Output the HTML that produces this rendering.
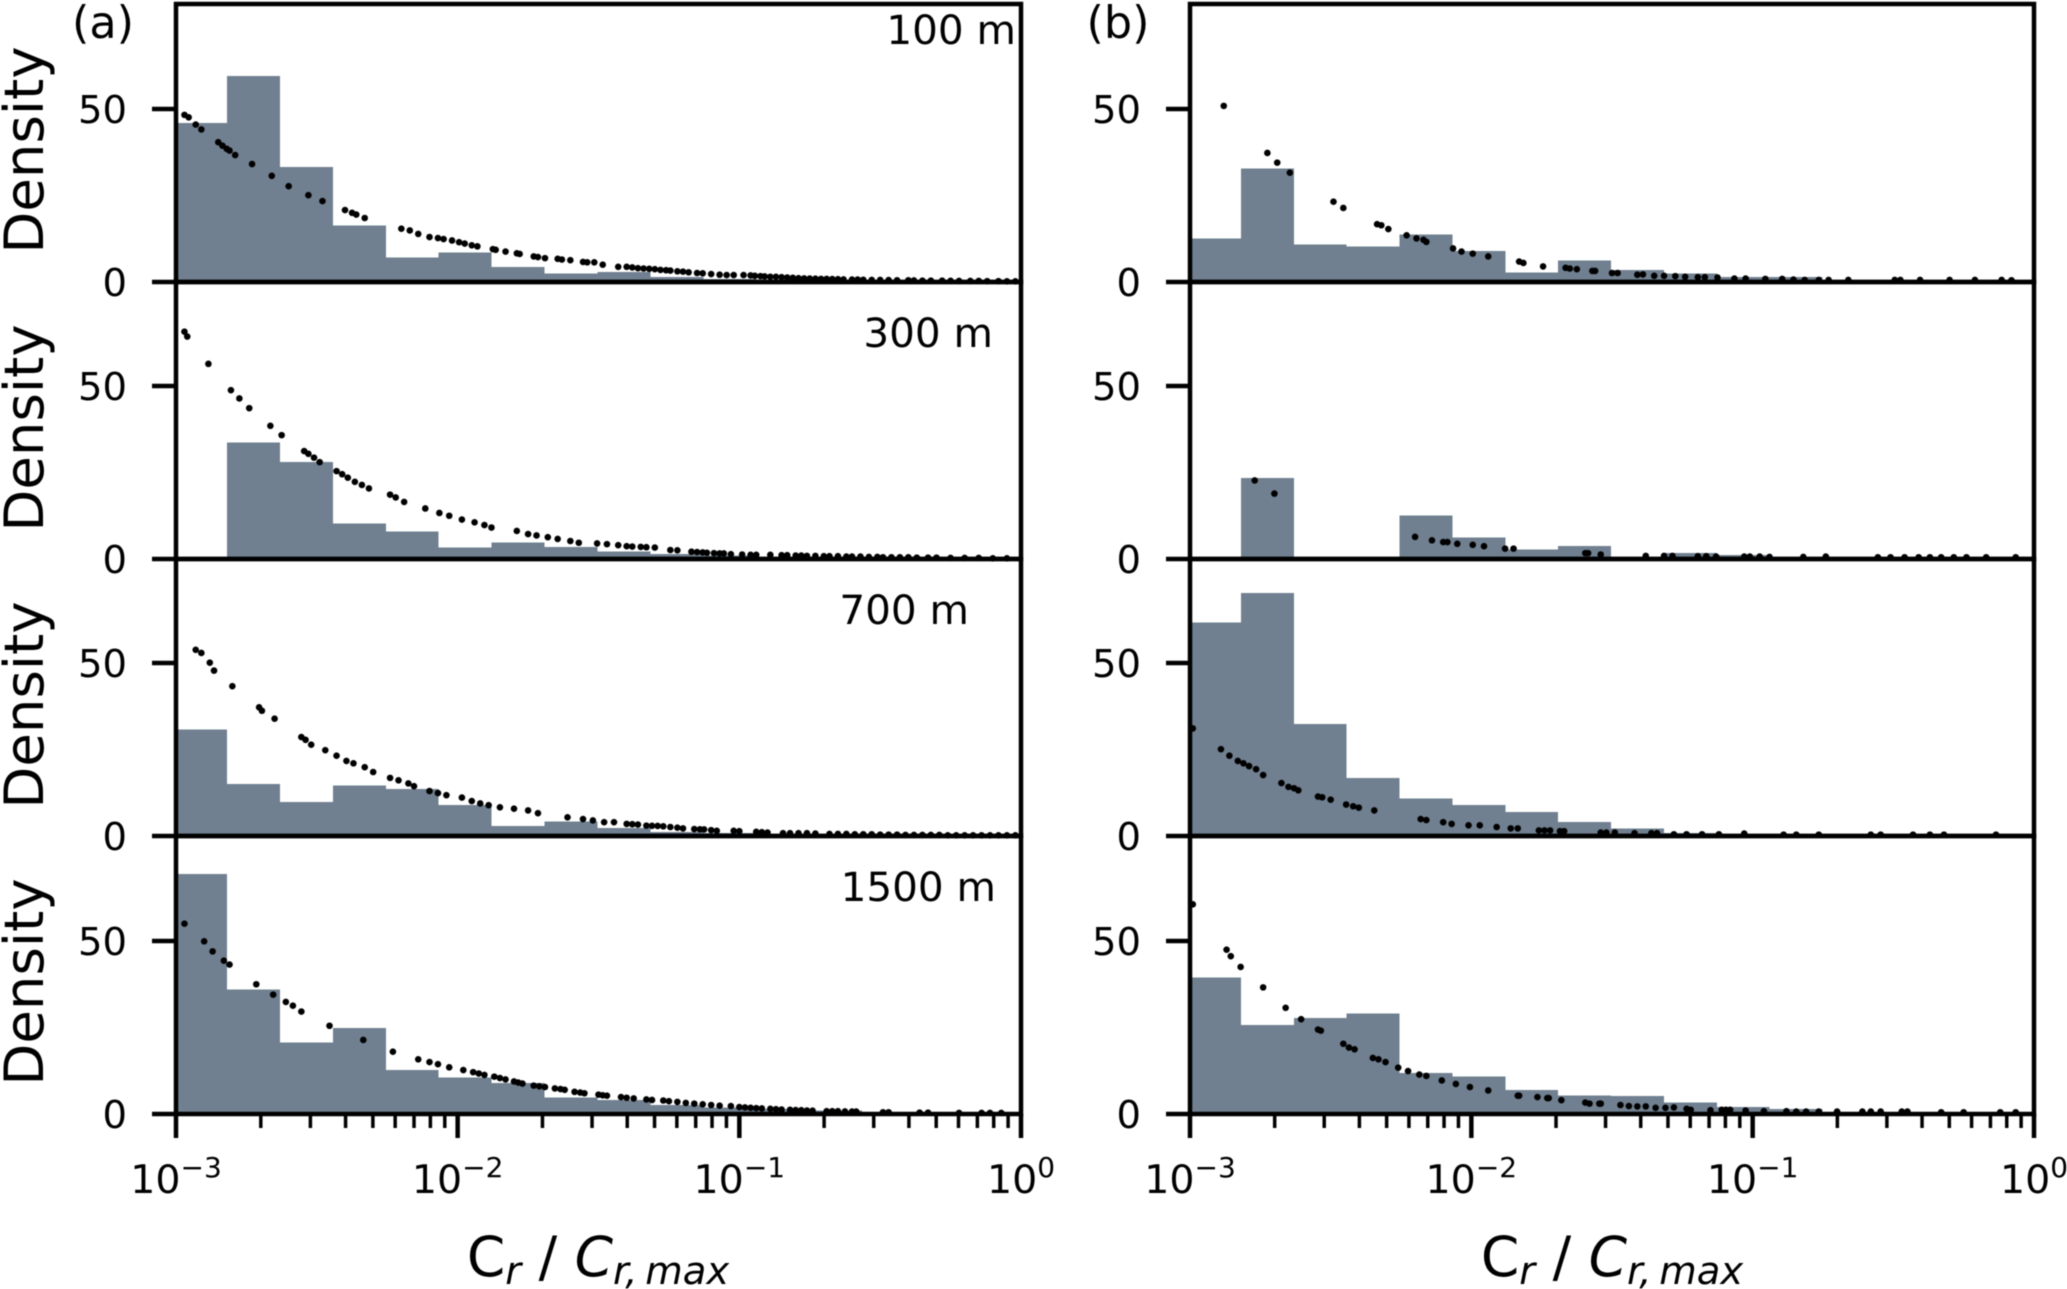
<!DOCTYPE html>
<html>
<head>
<meta charset="utf-8">
<title>Density histograms of Cr / Cr,max</title>
<style>
html,body{margin:0;padding:0;background:#fff;}
svg{display:block;filter:blur(0.5px);}
text{font-family:"DejaVu Sans","Liberation Sans",sans-serif;fill:#000;}
</style>
</head>
<body>
<svg id="chart" xmlns="http://www.w3.org/2000/svg" width="2067" height="1289" viewBox="0 0 2067 1289"></svg>
<script>
/* ---- data: histogram densities for 16 log-spaced bins from 10^-3 to 10^0 ---- */
const binStartExp = -3.007;
const binEndExp = 0;
const a1Hist = [46,59.5,33.3,16.4,7.1,8.5,4.3,2.5,2.9,1.5,0.8,0.5,0.3,0.2,0.1,0.05];
const a2Hist = [0,33.6,28,10.2,7.9,3.3,4.7,3.4,2.2,1.5,1,0.6,0.3,0.2,0.1,0.05];
const a3Hist = [30.8,15.1,9.8,14.6,13.6,9,2.9,4.2,2.3,1.1,0.8,0.5,0.3,0.2,0.1,0.05];
const a4Hist = [69.3,36,20.7,24.9,12.7,10.5,9,4.8,4,2.6,1.9,1.5,1,0.5,0.3,0.1];
const b1Hist = [12.6,32.8,10.8,10.3,13.7,9,2.8,6.2,3.4,2.5,1.5,1.4,0.5,0.3,0.1,0.05];
const b2Hist = [0,23.4,0,0,12.6,6.2,2.8,3.8,0,1.8,1.2,0.1,0.05,0.05,0.05,0];
const b3Hist = [61.7,70.3,32.3,16.8,10.8,8.9,7,4.1,2.2,0.8,0.3,0.2,0.1,0.1,0.05,0];
const b4Hist = [39.4,25.7,27.7,29,11.9,10.8,7,5.3,5.2,3.3,2,1.4,0.6,0.3,0.1,0.05];

/* ---- data: scatter points (log10 of Cr/Cr,max, density) ---- */
const a1X = [-2.97,-2.955,-2.93,-2.91,-2.85,-2.835,-2.82,-2.81,-2.79,-2.73,-2.66,-2.6,-2.53,-2.48,-2.4,-2.375,-2.36,-2.33,-2.2,-2.17,-2.14,-2.1,-2.07,-2.05,-2.02,-1.995,-1.975,-1.95,-1.93,-1.875,-1.865,-1.83,-1.79,-1.78,-1.73,-1.715,-1.69,-1.645,-1.63,-1.6,-1.555,-1.54,-1.515,-1.485,-1.43,-1.4,-1.38,-1.36,-1.34,-1.32,-1.3,-1.28,-1.26,-1.245,-1.22,-1.2,-1.18,-1.15,-1.13,-1.1,-1.07,-1.045,-1.02,-0.985,-0.96,-0.945,-0.925,-0.91,-0.89,-0.87,-0.85,-0.83,-0.81,-0.79,-0.77,-0.75,-0.73,-0.71,-0.69,-0.67,-0.65,-0.63,-0.6,-0.58,-0.56,-0.53,-0.5,-0.47,-0.44,-0.4,-0.38,-0.35,-0.32,-0.28,-0.25,-0.22,-0.18,-0.15,-0.12,-0.08,-0.05,-0.02];
const a1Y = [48.3,47.6,45.5,44.1,40.4,39.4,38.5,38,36.7,34.1,30.7,27.7,25.1,23.4,20.8,20,19.5,18.5,15.4,14.9,13.9,13,12.7,12.4,12,11.5,11.1,10.6,10.3,9.5,9.3,8.8,8.3,8.1,7.4,7.2,6.9,6.7,6.5,6.3,5.8,5.7,5.7,5,4.4,4.4,4.2,4,3.9,3.8,3.7,3.5,3.4,3.3,3.1,3,2.8,2.6,2.5,2.3,2.1,2,2,2,1.9,1.8,1.7,1.6,1.5,1.5,1.4,1.3,1.2,1.1,1.05,1,0.95,0.9,0.9,0.85,0.8,0.75,0.7,0.7,0.65,0.6,0.6,0.55,0.5,0.5,0.45,0.4,0.4,0.4,0.35,0.3,0.3,0.3,0.25,0.25,0.2,0.2];

const a2X = [-2.97,-2.96,-2.885,-2.805,-2.775,-2.74,-2.665,-2.625,-2.545,-2.53,-2.51,-2.49,-2.43,-2.41,-2.39,-2.365,-2.34,-2.315,-2.24,-2.22,-2.19,-2.115,-2.065,-2.03,-1.985,-1.94,-1.905,-1.88,-1.79,-1.75,-1.72,-1.68,-1.645,-1.6,-1.57,-1.505,-1.47,-1.43,-1.4,-1.38,-1.35,-1.33,-1.3,-1.245,-1.22,-1.17,-1.15,-1.13,-1.115,-1.09,-1.07,-1.055,-1.03,-0.99,-0.96,-0.94,-0.89,-0.85,-0.83,-0.8,-0.78,-0.76,-0.73,-0.7,-0.68,-0.65,-0.62,-0.6,-0.57,-0.54,-0.51,-0.49,-0.46,-0.43,-0.4,-0.37,-0.33,-0.3,-0.25,-0.2,-0.15,-0.1,-0.05];
const a2Y = [65.7,64.3,56.4,48.8,46.4,43.6,38.5,35.8,31.2,30.4,29.3,28,25.4,24.5,23.5,22.3,21.4,20.4,18.6,17.8,16.5,14.6,13.3,12.5,11.4,10.6,9.8,9.1,8.1,7.2,6.8,6.3,5.8,5.2,4.7,4.5,4.3,4,3.7,3.6,3.5,3.4,3.3,2.6,2.5,2.1,2,1.9,1.8,1.7,1.6,1.6,1.4,1.3,1.2,1.2,1.2,1.1,1.1,1,1,0.9,0.9,0.8,0.8,0.8,0.7,0.7,0.7,0.6,0.6,0.5,0.5,0.5,0.5,0.4,0.4,0.4,0.3,0.3,0.3,0.2,0.2];

const a3X = [-2.93,-2.91,-2.88,-2.865,-2.8,-2.705,-2.695,-2.65,-2.555,-2.54,-2.52,-2.47,-2.43,-2.395,-2.37,-2.33,-2.3,-2.24,-2.21,-2.175,-2.155,-2.1,-2.07,-2.04,-1.985,-1.95,-1.92,-1.89,-1.85,-1.8,-1.75,-1.715,-1.61,-1.555,-1.52,-1.48,-1.445,-1.4,-1.38,-1.36,-1.33,-1.31,-1.29,-1.27,-1.245,-1.22,-1.2,-1.16,-1.14,-1.125,-1.1,-1.08,-1.02,-1,-0.94,-0.92,-0.9,-0.845,-0.82,-0.79,-0.76,-0.73,-0.68,-0.65,-0.62,-0.59,-0.56,-0.53,-0.5,-0.47,-0.44,-0.41,-0.38,-0.35,-0.32,-0.29,-0.26,-0.23,-0.2,-0.17,-0.14,-0.11,-0.08,-0.05,-0.02];
const a3Y = [53.8,52.9,50.1,47.8,43.3,37.2,36.2,33.9,28.6,27.8,26.4,24.8,23.2,21.7,21,19.9,18.5,16.8,16.1,15.2,14.4,13,12.4,11.8,11.1,10.1,9.4,8.9,8.3,7.9,7.4,6.6,5.4,4.9,4.5,4,4,3.5,3.4,3.3,3,2.95,2.9,2.8,2.6,2.4,2.2,2,1.95,1.9,1.7,1.5,1.5,1.4,1.2,1.1,1,0.8,0.8,0.8,0.8,0.7,0.6,0.6,0.6,0.5,0.5,0.5,0.4,0.4,0.4,0.3,0.3,0.3,0.3,0.3,0.2,0.2,0.2,0.2,0.2,0.2,0.2,0.2,0.2];

const a4X = [-2.97,-2.9,-2.87,-2.83,-2.81,-2.715,-2.655,-2.61,-2.585,-2.555,-2.455,-2.335,-2.23,-2.14,-2.1,-2.07,-2.03,-1.98,-1.945,-1.925,-1.905,-1.87,-1.85,-1.83,-1.8,-1.785,-1.77,-1.73,-1.71,-1.69,-1.655,-1.635,-1.62,-1.585,-1.565,-1.55,-1.5,-1.485,-1.47,-1.42,-1.4,-1.375,-1.33,-1.31,-1.27,-1.25,-1.22,-1.19,-1.16,-1.13,-1.1,-1.07,-1.03,-1,-0.98,-0.96,-0.94,-0.92,-0.89,-0.87,-0.85,-0.82,-0.8,-0.78,-0.76,-0.74,-0.69,-0.67,-0.65,-0.625,-0.6,-0.585,-0.49,-0.47,-0.36,-0.33,-0.22,-0.14,-0.11,-0.07];
const a4Y = [55,49.9,47,44.3,43.2,37.5,34.5,32.4,31.3,29.6,25.5,21.4,18,15.8,15,14.4,13.5,12.7,12.1,11.7,11.3,10.8,10.4,10,9.4,9.1,8.8,8.2,8,7.8,7.4,7.2,7,6.4,6.2,6,5.6,5.4,5.3,4.9,4.7,4.5,4.2,4.05,3.9,3.7,3.5,3.2,3,2.8,2.6,2.4,2.3,2,1.9,1.8,1.7,1.6,1.5,1.4,1.3,1.2,1.15,1.1,1,0.95,0.8,0.8,0.8,0.75,0.7,0.7,0.5,0.5,0.4,0.4,0.3,0.3,0.3,0.3];

const b1X = [-2.88,-2.725,-2.69,-2.645,-2.49,-2.455,-2.335,-2.32,-2.295,-2.23,-2.195,-2.17,-2.16,-2.065,-2.035,-1.995,-1.94,-1.83,-1.815,-1.745,-1.665,-1.65,-1.625,-1.57,-1.56,-1.5,-1.48,-1.41,-1.39,-1.35,-1.315,-1.275,-1.24,-1.195,-1.17,-1.125,-1.065,-1.025,-0.955,-0.895,-0.855,-0.815,-0.765,-0.73,-0.66,-0.495,-0.475,-0.405,-0.3,-0.21,-0.115,-0.08];
const b1Y = [50.9,37.3,34.5,31.6,23.2,21.4,16.7,16.4,15.3,13.5,12.6,12.2,11.6,9.7,8.8,8.2,7.4,5.9,5.5,4.5,4.1,3.9,3.7,3.2,3.2,2.6,2.6,2.1,2.2,1.8,1.8,1.7,1.5,1.4,1.4,1.3,1,1,0.9,0.9,0.7,0.6,0.6,0.6,0.6,0.6,0.6,0.6,0.6,0.6,0.6,0.5];

const b2X = [-2.77,-2.7,-2.2,-2.14,-2.1,-2.085,-2.05,-1.995,-1.955,-1.88,-1.85,-1.595,-1.585,-1.54,-1.38,-1.315,-1.285,-1.195,-1.165,-1.13,-1.03,-1.01,-0.975,-0.94,-0.82,-0.74,-0.555,-0.51,-0.46,-0.41,-0.37,-0.33,-0.285,-0.24,-0.17,-0.065];
const b2Y = [22.7,18.9,6.4,5.4,4.9,4.9,4.4,4.1,3.7,3,3,1.7,1.7,1.3,0.9,0.9,0.9,0.8,0.8,0.7,0.7,0.7,0.7,0.6,0.6,0.7,0.5,0.5,0.5,0.5,0.5,0.5,0.5,0.5,0.5,0.5];

const b3X = [-2.99,-2.89,-2.86,-2.83,-2.81,-2.79,-2.765,-2.74,-2.675,-2.65,-2.63,-2.615,-2.545,-2.53,-2.5,-2.445,-2.42,-2.4,-2.345,-2.18,-2.16,-2.1,-2.07,-2.01,-1.97,-1.91,-1.86,-1.835,-1.76,-1.74,-1.72,-1.685,-1.67,-1.54,-1.52,-1.49,-1.42,-1.36,-1.34,-1.28,-1.235,-1.18,-1.12,-1.03,-0.89,-0.845,-0.765,-0.58,-0.545,-0.43,-0.37,-0.32,-0.135];
const b3Y = [31.1,25.1,23.2,21.7,21,20.2,19.3,17.6,15.3,14.2,13.8,13.2,11.4,11.2,10.5,9.1,8.6,8.2,7.4,4.9,4.6,4,3.5,3.1,3.1,2.6,2.2,2.2,1.6,1.6,1.6,1.4,1.4,1,1,1,0.8,0.8,0.8,0.5,0.5,0.5,0.5,0.7,0.4,0.4,0.4,0.4,0.4,0.4,0.4,0.4,0.4];

const b4X = [-2.99,-2.87,-2.855,-2.82,-2.74,-2.66,-2.605,-2.545,-2.535,-2.455,-2.435,-2.415,-2.35,-2.33,-2.305,-2.26,-2.225,-2.185,-2.16,-2.105,-2.055,-2.005,-1.94,-1.835,-1.83,-1.765,-1.73,-1.725,-1.68,-1.595,-1.58,-1.545,-1.54,-1.47,-1.44,-1.41,-1.38,-1.345,-1.31,-1.28,-1.235,-1.22,-1.15,-1.11,-1.095,-1.08,-1.025,-0.96,-0.88,-0.845,-0.81,-0.765,-0.7,-0.61,-0.58,-0.545,-0.47,-0.45,-0.33,-0.25,-0.12,-0.065];
const b4Y = [60.6,47.5,45.6,42.5,36.6,30.7,27.4,24.4,24.1,20.3,19.2,18.7,16.2,15.8,15,13.4,12.4,11.4,11,9.7,8.7,7.8,6.8,5.3,5.3,4.9,4.6,4.6,4,3.3,3,3,3,2.6,2.3,2.2,2.2,1.8,1.8,1.9,1.5,1.2,1.1,1.2,1.2,1.2,1,0.8,0.8,0.7,0.7,0.7,0.7,0.7,0.7,0.7,0.7,0.7,0.5,0.5,0.5,0.5];

/* ---- tick labels ---- */
const yTickValues = [0,50];
const xMajorExps = [-3,-2,-1,0];
const xMajorLabels = ['\u22123','\u22122','\u22121','0'];
const xMinorMultipliers = [2,3,4,5,6,7,8,9];
const altitudeLabels = ['100 m','300 m','700 m','1500 m'];
const panelLetters = ['(a)','(b)'];

/* ---- layout ---- */
const NS = 'http://www.w3.org/2000/svg';
const svg = document.getElementById('chart');
const axisStartExp = -3;
const axisEndExp = 0;
const pxPerUnit = 3.46;
const baselines = [282,559,836,1114];
const columns = [{left:176,right:1021,tickLabelX:127,letterX:103,xLabelCx:598},
                 {left:1190,right:2034,tickLabelX:1141,letterX:1118,xLabelCx:1612}];
const altitudeRightX = [1016,993,969,996];
const altitudeBaseY = [44,347,624,901];
const densityCenterY = [150,428,705,982];

function mk(tag, attrs, parent){
  const e = document.createElementNS(NS, tag);
  for (const k in attrs) e.setAttribute(k, attrs[k]);
  (parent || svg).appendChild(e);
  return e;
}
function xScale(col, exp){
  return col.left + (exp - axisStartExp) / (axisEndExp - axisStartExp) * (col.right - col.left);
}
function yScale(base, v){
  return base - v * pxPerUnit;
}

const histGrid = [[a1Hist,a2Hist,a3Hist,a4Hist],[b1Hist,b2Hist,b3Hist,b4Hist]];
const xGrid = [[a1X,a2X,a3X,a4X],[b1X,b2X,b3X,b4X]];
const yGrid = [[a1Y,a2Y,a3Y,a4Y],[b1Y,b2Y,b3Y,b4Y]];

columns.forEach(function(col, c){
  const colName = c === 0 ? 'a' : 'b';

  baselines.forEach(function(base, r){
    const g = mk('g', {});
    
    

    const hist = histGrid[c][r];
    const step = (binEndExp - binStartExp) / hist.length;
    hist.forEach(function(v, i){
      if (v <= 0) return;
      const x0 = Math.max(col.left, xScale(col, binStartExp + i * step));
      const x1 = xScale(col, binStartExp + (i + 1) * step);
      const bar = mk('rect', {x:x0, y:yScale(base, v), width:x1 - x0, height:v * pxPerUnit, fill:'#708090', 'shape-rendering':'crispEdges'}, g);
      
      
    });

    const xs = xGrid[c][r], ys = yGrid[c][r];
    xs.forEach(function(ex, i){
      const dot = mk('circle', {cx:xScale(col, ex), cy:yScale(base, ys[i]), r:3.3, fill:'#000'}, g);
      
      
    });

    const frameTop = r === 0 ? 4 : baselines[r - 1];
    const frame = mk('rect', {x:col.left, y:frameTop, width:col.right - col.left, height:base - frameTop, fill:'none', stroke:'#000', 'stroke-width':4.5}, g);
    
    

    yTickValues.forEach(function(v){
      const y = yScale(base, v);
      const tick = mk('line', {x1:col.left - 24, x2:col.left, y1:y, y2:y, stroke:'#000', 'stroke-width':4.5}, g);
      
      
      const lab = mk('text', {x:col.tickLabelX, y:y + 14, 'text-anchor':'end', 'font-size':38.5}, g);
      lab.textContent = String(v);
      
      
    });

    if (c === 0) {
      const dens = mk('text', {x:43, y:densityCenterY[r], 'text-anchor':'middle', 'font-size':54.5, transform:'rotate(-90 43 ' + densityCenterY[r] + ')'}, g);
      dens.textContent = 'Density';
      
      

      const alt = mk('text', {x:altitudeRightX[r], y:altitudeBaseY[r], 'text-anchor':'end', 'font-size':40.5}, g);
      alt.textContent = altitudeLabels[r];
      
      
    }
  });

  /* x axis ticks on the bottom panel only */
  const axisY = baselines[baselines.length - 1];
  xMajorExps.forEach(function(ex, i){
    const x = xScale(col, ex);
    const tick = mk('line', {x1:x, x2:x, y1:axisY, y2:axisY + 24, stroke:'#000', 'stroke-width':4.5});
    
    
    const lab = mk('text', {x:x, y:1193, 'text-anchor':'middle', 'font-size':39.5});
    
    
    lab.appendChild(document.createTextNode('10'));
    const sup = mk('tspan', {dy:-16, 'font-size':28}, lab);
    sup.textContent = xMajorLabels[i];
    if (i < xMajorExps.length - 1) {
      xMinorMultipliers.forEach(function(m){
        const mx = xScale(col, ex + Math.log10(m));
        const minor = mk('line', {x1:mx, x2:mx, y1:axisY, y2:axisY + 14, stroke:'#000', 'stroke-width':3.5});
        
        
      });
    }
  });

  const letter = mk('text', {x:col.letterX, y:38, 'text-anchor':'middle', 'font-size':44.5});
  letter.textContent = panelLetters[c];
  
  

  const xl = mk('text', {x:col.xLabelCx, y:1276, 'text-anchor':'middle', 'font-size':55});
  
  
  xl.appendChild(document.createTextNode('C'));
  const s1 = mk('tspan', {dy:8, 'font-size':38.5, 'font-style':'italic'}, xl);
  s1.textContent = 'r';
  const s2 = mk('tspan', {dy:-8}, xl);
  s2.textContent = ' / ';
  const s3 = mk('tspan', {'font-style':'italic'}, xl);
  s3.textContent = 'C';
  const s4 = mk('tspan', {dy:8, 'font-size':38.5, 'font-style':'italic'}, xl);
  s4.textContent = 'r,\u2009max';
});
</script>
</body>
</html>
